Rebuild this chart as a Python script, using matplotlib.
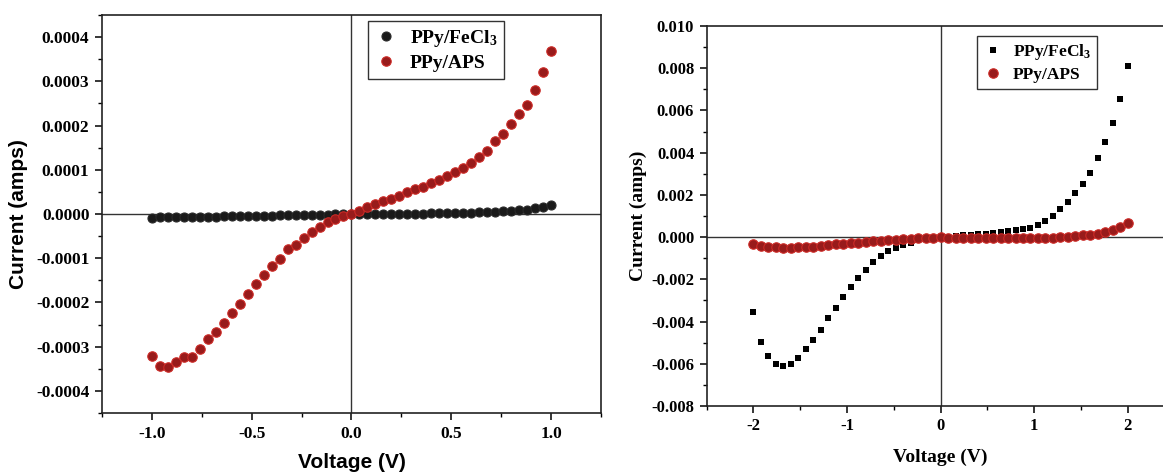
import numpy as np
import matplotlib
matplotlib.use("Agg")
import matplotlib.pyplot as plt
from matplotlib.ticker import MultipleLocator, FuncFormatter

plt.rcParams['mathtext.fontset'] = 'custom'
plt.rcParams['mathtext.rm'] = 'Liberation Serif:bold'
plt.rcParams['mathtext.it'] = 'Liberation Serif:bold'
plt.rcParams['mathtext.bf'] = 'Liberation Serif:bold'

# Left panel data (V, A)
volt_a = np.round(np.arange(-1.0, 1.0001, 0.04), 2)
aps_a = np.array([
    -3.20, -3.44, -3.46, -3.35, -3.23, -3.23, -3.06, -2.83, -2.67, -2.46,
    -2.24, -2.03, -1.80, -1.59, -1.38, -1.17, -1.02, -0.79, -0.70, -0.55,
    -0.41, -0.30, -0.19, -0.11, -0.05, 0.00, 0.07, 0.15, 0.22, 0.29,
    0.35, 0.41, 0.49, 0.56, 0.62, 0.70, 0.77, 0.86, 0.95, 1.05,
    1.15, 1.28, 1.43, 1.65, 1.80, 2.03, 2.27, 2.47, 2.80, 3.20, 3.68]) * 1e-4
fecl3_a = np.array([
    -8.0, -7.8, -7.5, -7.2, -6.9, -6.6, -6.3, -6.0, -5.7, -5.4,
    -5.1, -4.8, -4.5, -4.2, -3.9, -3.6, -3.3, -3.0, -2.7, -2.4,
    -2.1, -1.8, -1.4, -1.0, -0.5, 0.0, -0.2, -0.2, -0.1, 0.0,
    0.2, 0.4, 0.6, 0.8, 1.0, 1.3, 1.6, 1.9, 2.2, 2.6,
    3.0, 3.5, 4.1, 4.8, 5.7, 6.8, 8.2, 10.0, 12.5, 15.8, 20.0]) * 1e-6

# Right panel data (V, A)
volt_b = np.round(np.arange(-2.0, 2.0001, 0.08), 2)
fecl3_b = np.array([
    -3.55, -4.95, -5.65, -6.00, -6.12, -6.00, -5.72, -5.28, -4.88, -4.40,
    -3.85, -3.35, -2.85, -2.35, -1.95, -1.55, -1.20, -0.88, -0.68, -0.52,
    -0.38, -0.26, -0.16, -0.09, -0.04, 0.00, 0.02, 0.05, 0.08, 0.11,
    0.14, 0.17, 0.20, 0.24, 0.28, 0.33, 0.38, 0.45, 0.58, 0.76,
    1.00, 1.32, 1.65, 2.08, 2.50, 3.02, 3.75, 4.51, 5.40, 6.56, 8.12]) * 1e-3
aps_b = np.array([
    -0.33, -0.40, -0.45, -0.49, -0.50, -0.50, -0.49, -0.47, -0.45, -0.42,
    -0.39, -0.35, -0.32, -0.29, -0.26, -0.23, -0.20, -0.17, -0.15, -0.13,
    -0.10, -0.08, -0.06, -0.04, -0.02, 0.00, -0.02, -0.03, -0.04, -0.05,
    -0.05, -0.05, -0.05, -0.05, -0.05, -0.05, -0.05, -0.04, -0.04, -0.03,
    -0.02, 0.00, 0.02, 0.05, 0.08, 0.12, 0.17, 0.24, 0.33, 0.47, 0.68]) * 1e-3

label_fe = 'PPy/FeCl$_3$'
label_aps = 'PPy/APS'

red_face = '#981b1b'
red_edge = '#cc2a26'
blk = '#1a1a1a'

serif_bold = dict(family='Liberation Serif', weight='bold')
sans_bold = dict(family='Liberation Sans', weight='bold')

fig = plt.figure(figsize=(11.63, 4.75), dpi=100)
ax1 = fig.add_axes([0.0877, 0.1305, 0.429, 0.838])
ax2 = fig.add_axes([0.6076, 0.1453, 0.4024, 0.80])

# Left panel
ax1.axhline(0, color='#333333', lw=1.0, zorder=1)
ax1.axvline(0, color='#333333', lw=1.0, zorder=1)
ax1.plot(volt_a, fecl3_a, 'o', ms=6.5, color=blk, mec='#2a2a2a', mew=0.8,
         label=label_fe, zorder=3)
ax1.plot(volt_a, aps_a, 'o', ms=6.8, color=red_face, mec=red_edge, mew=0.8,
         label=label_aps, zorder=4)
ax1.set_xlim(-1.25, 1.25)
ax1.set_ylim(-0.00045, 0.00045)
ax1.xaxis.set_major_locator(MultipleLocator(0.5))
ax1.xaxis.set_minor_locator(MultipleLocator(0.25))
ax1.yaxis.set_major_locator(MultipleLocator(0.0001))
ax1.yaxis.set_minor_locator(MultipleLocator(0.00005))
ax1.xaxis.set_major_formatter(FuncFormatter(lambda v, p: f'{v + 0.0:.1f}'.replace('-0.0', '0.0')))
ax1.yaxis.set_major_formatter(FuncFormatter(lambda v, p: f'{round(v, 6) + 0.0:.4f}'))
ax1.set_xlabel('Voltage (V)', fontsize=15, labelpad=8, **sans_bold)
ax1.set_ylabel('Current (amps)', fontsize=15, labelpad=6, **sans_bold)
leg1 = ax1.legend(loc='upper left', bbox_to_anchor=(0.533, 0.985), frameon=True,
                  fancybox=False, prop=dict(family='Liberation Serif', weight='bold', size=14),
                  handletextpad=0.6, borderpad=0.35, labelspacing=0.3, handlelength=1.2,
                  borderaxespad=0)

# Right panel
ax2.axhline(0, color='#333333', lw=1.0, zorder=1)
ax2.axvline(0, color='#333333', lw=1.0, zorder=1)
ax2.plot(volt_b, fecl3_b, 's', ms=5, color='black', mew=0,
         label=label_fe, zorder=3)
ax2.plot(volt_b, aps_b, 'o', ms=6.8, color=red_face, mec=red_edge, mew=0.8,
         label=label_aps, zorder=4)
ax2.set_xlim(-2.5, 2.5)
ax2.set_ylim(-0.008, 0.010)
ax2.xaxis.set_major_locator(MultipleLocator(1))
ax2.xaxis.set_minor_locator(MultipleLocator(0.5))
ax2.yaxis.set_major_locator(MultipleLocator(0.002))
ax2.yaxis.set_minor_locator(MultipleLocator(0.001))
ax2.xaxis.set_major_formatter(FuncFormatter(lambda v, p: f'{int(round(v))}'))
ax2.yaxis.set_major_formatter(FuncFormatter(lambda v, p: f'{round(v, 5) + 0.0:.3f}'))
ax2.set_xlabel('Voltage (V)', fontsize=14, labelpad=10, **serif_bold)
ax2.set_ylabel('Current (amps)', fontsize=14, labelpad=3, **serif_bold)
leg2 = ax2.legend(loc='upper left', bbox_to_anchor=(0.578, 0.974), frameon=True,
                  fancybox=False, prop=dict(family='Liberation Serif', weight='bold', size=12.5),
                  handletextpad=0.6, borderpad=0.35, labelspacing=0.3, handlelength=1.1,
                  borderaxespad=0)

for ax, fs in ((ax1, 12.5), (ax2, 12)):
    for sp in ax.spines.values():
        sp.set_linewidth(1.2)
        sp.set_color('#222222')
    ax.tick_params(which='major', direction='out', length=5, width=1.1, labelsize=fs, pad=4)
    ax.tick_params(which='minor', direction='out', length=3, width=1.0)
    for lab in ax.get_xticklabels() + ax.get_yticklabels():
        lab.set_fontfamily('Liberation Serif')
        lab.set_fontweight('bold')
for leg in (leg1, leg2):
    leg.get_frame().set_edgecolor('black')
    leg.get_frame().set_linewidth(1.0)

fig.savefig('out.png', dpi=100)
